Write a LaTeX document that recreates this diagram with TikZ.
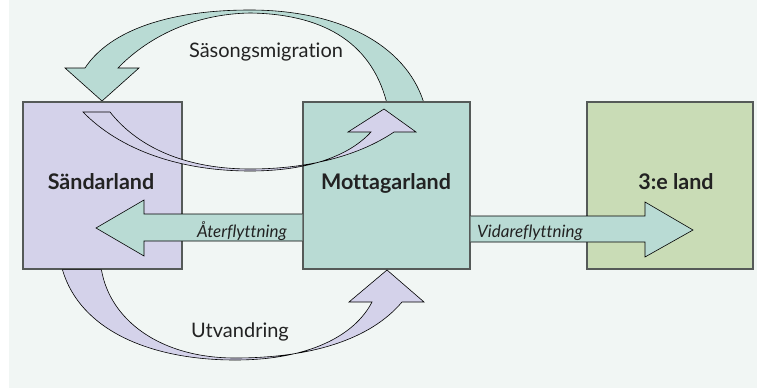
\documentclass[tikz,border=0pt]{standalone}
\usepackage{fontspec}
\setmainfont{Lato}[Ligatures=NoCommon]
\usetikzlibrary{calc}
\definecolor{bgcol}{HTML}{F1F6F4}
\definecolor{sendcol}{HTML}{D4D2EA}
\definecolor{recvcol}{HTML}{B9DBD4}
\definecolor{thirdcol}{HTML}{C9DCB6}
\definecolor{boxline}{HTML}{555A58}
\definecolor{txtcol}{HTML}{222222}
\tikzset{
  land/.style={draw=boxline, line width=1.2pt, inner sep=0pt, minimum height=167pt},
  landtxt/.style={anchor=base, inner sep=0pt, text=txtcol, font=\fontsize{21.5}{23}\selectfont\bfseries},
  migrtxt/.style={anchor=base, inner sep=0pt, text=txtcol, font=\fontsize{20}{22}\selectfont},
  flowtxt/.style={anchor=base, inner sep=0pt, text=txtcol, font=\fontsize{17}{19}\selectfont\itshape},
  bigarrow/.style={draw=black, line width=0.6pt, line join=miter}
}
\begin{document}
\begin{tikzpicture}[x=1pt,y=-1pt]
\useasboundingbox (0,0) rectangle (757,388);
\fill[bgcol] (9,0) rectangle (757,388);
% Saesongsmigration, behind the boxes
\node[land, fill=recvcol, minimum width=167pt] (recv) at (386.5,185.5){};
\filldraw[bigarrow, fill=recvcol] ($(recv.north west)+(121,0)$) .. controls (405,45) and (340,10) .. (250,10)
  .. controls (170,10) and (110,30) .. (85,68) -- (65,68) -- (102,101) -- (139,68) -- (118,68)
  .. controls (145,40) and (190,14) .. (250,13) .. controls (320,14) and (370,40) .. ($(recv.north west)+(84,0)$) -- cycle;
\node[land, fill=recvcol, minimum width=167pt] at (recv){};
\node[land, fill=sendcol, minimum width=159pt] (send) at (102.5,185.5){};
\node[land, fill=thirdcol, minimum width=166pt] (third) at (670,185.5){};
\node[landtxt] (sendtxt) at (101,189){Sändarland};
\node[landtxt] (recvtxt) at (386,189){Mottagarland};
\node[landtxt] (thirdtxt) at (676,189){3:e land};
% Aaterflyttning
\fill[recvcol] ($(recv.west)+(0,28.5)$) -- (144,214) -- (144,200) -- (96,228) -- (144,256) -- (144,241) -- ($(recv.west)+(0,55.5)$) -- cycle;
\draw[bigarrow] ($(recv.west)+(0,28.5)$) -- (144,214) -- (144,200) -- (96,228) -- (144,256) -- (144,241) -- ($(recv.west)+(0,55.5)$);
\node[flowtxt, anchor=base east] (backtxt) at (287,237){Återflyttning};
% Vidareflyttning
\fill[recvcol] ($(recv.east)+(0,30.5)$) -- (645,216) -- (645,202) -- (693,230) -- (645,257) -- (645,242) -- ($(recv.east)+(0,56.5)$) -- cycle;
\draw[bigarrow] ($(recv.east)+(0,30.5)$) -- (645,216) -- (645,202) -- (693,230) -- (645,257) -- (645,242) -- ($(recv.east)+(0,56.5)$);
\node[flowtxt, anchor=base west] (fwdtxt) at (477,237){Vidareflyttning};
% Saesongsmigration, return leg
\filldraw[bigarrow, fill=sendcol] (83,112) .. controls (120,150) and (180,171) .. (250,171)
  .. controls (310,171) and (350,155) .. (371,132) -- (348,132) -- (384,109) -- (416,132) -- (394,132)
  .. controls (360,155) and (310,169) .. (250,169) .. controls (190,169) and (140,150) .. (110,112) -- cycle;
% Utvandring
\filldraw[bigarrow, fill=sendcol] ($(send.south west)+(40,0)$) .. controls (80,330) and (150,360) .. (235,360)
  .. controls (310,360) and (355,335) .. (372,302) -- (349,302) -- (387,270) -- (424,302) -- (402,302)
  .. controls (370,340) and (310,358) .. (235,358) .. controls (160,358) and (110,320) .. ($(send.south west)+(79,0)$) -- cycle;
\node[migrtxt] (seasontxt) at (266,57){Säsongsmigration};
\node[migrtxt] (emigtxt) at (240,337){Utvandring};
\end{tikzpicture}
\end{document}
